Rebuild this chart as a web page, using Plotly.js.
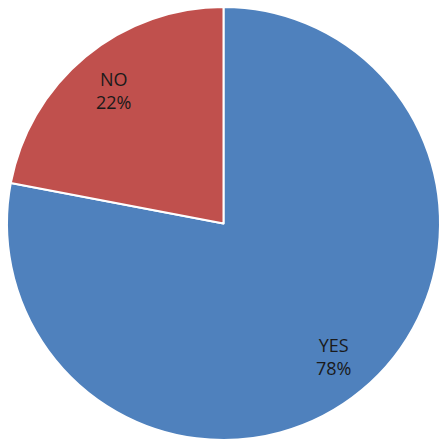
<!DOCTYPE html>
<html>
<head>
<meta charset="utf-8">
<script src="https://cdn.plot.ly/plotly-3.0.1.min.js"></script>
<style>html,body{margin:0;padding:0;background:#fff;}#chart{width:447px;height:447px;}</style>
</head>
<body>
<div id="chart"></div>
<script>
const labels = ["YES", "NO"];
const values = [78, 22];
const colors = ["#4F81BD", "#C0504D"];

const trace = {
  type: "pie",
  labels: labels,
  values: values,
  sort: false,
  direction: "clockwise",
  rotation: 0,
  marker: {colors: colors, line: {color: "#ffffff", width: 2}},
  textinfo: "none",
  textposition: "none",
  hoverinfo: "none"
};

// label positions along each slice's mid-angle, derived from the values
const total = values.reduce((a, b) => a + b, 0);
const annotations = [];
let cum = 0;
values.forEach((v, i) => {
  const mid = (cum + v / 2) / total * 2 * Math.PI;
  cum += v;
  const rr = 0.5 * 0.8;
  annotations.push({
    xref: "paper", yref: "paper",
    x: 0.5 + rr * Math.sin(mid),
    y: 0.5 + rr * Math.cos(mid),
    text: labels[i] + "<br>" + Math.round(v / total * 100) + "%",
    showarrow: false,
    align: "center",
    xanchor: "center", yanchor: "middle",
    font: {family: "Open Sans, Liberation Sans, sans-serif", size: 18, color: "#1a1a1a"}
  });
});

const layout = {
  width: 447, height: 447,
  margin: {l: 7, r: 7, t: 7, b: 7},
  showlegend: false,
  paper_bgcolor: "#ffffff",
  annotations: annotations
};

Plotly.newPlot("chart", [trace], layout, {staticPlot: true, displayModeBar: false});
</script>
</body>
</html>
